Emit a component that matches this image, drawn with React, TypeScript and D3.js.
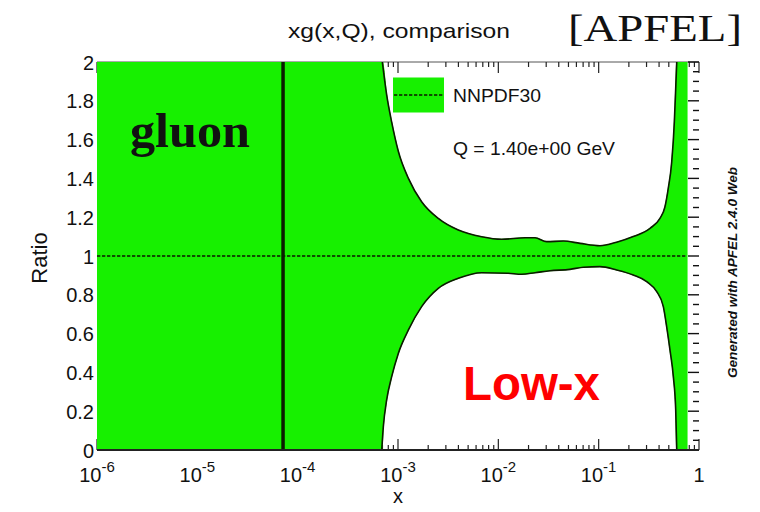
import React from "react";
import * as d3 from "d3";

// ---- data ----
const upperX = [1e-6, 6.98e-4, 7.71e-4, 8.65e-4, 1.007e-3, 1.27e-3, 1.72e-3, 2.52e-3, 3.99e-3, 6.82e-3, 1.08e-2, 1.85e-2, 2.32e-2, 3.03e-2, 4.45e-2, 6.52e-2, 0.103, 0.151, 0.221, 0.325, 0.408, 0.458, 0.494, 0.535, 0.568, 0.586, 0.6, 0.76];
const upperY = [2.0, 2.0, 1.83, 1.69, 1.54, 1.40, 1.28, 1.194, 1.134, 1.099, 1.086, 1.094, 1.094, 1.074, 1.077, 1.065, 1.053, 1.071, 1.100, 1.143, 1.194, 1.254, 1.349, 1.486, 1.692, 1.864, 2.0, 2.0];
const lowerX = [1e-6, 6.89e-4, 7.14e-4, 7.71e-4, 8.65e-4, 1.007e-3, 1.27e-3, 1.72e-3, 2.52e-3, 3.99e-3, 6.82e-3, 1.256e-2, 1.71e-2, 2.32e-2, 3.27e-2, 5.18e-2, 7.03e-2, 0.103, 0.151, 0.221, 0.301, 0.379, 0.441, 0.476, 0.514, 0.555, 0.586, 0.6, 0.76];
const lowerY = [0, 0, 0.12, 0.258, 0.378, 0.498, 0.619, 0.739, 0.833, 0.885, 0.914, 0.911, 0.906, 0.914, 0.924, 0.931, 0.942, 0.945, 0.928, 0.902, 0.868, 0.816, 0.739, 0.636, 0.515, 0.378, 0.206, 0, 0];
const centralValue = 1;
const xMarker = 7.15e-5;
const xDecades = [-6, -5, -4, -3, -2, -1, 0];
const yTickValues = [0, 0.2, 0.4, 0.6, 0.8, 1, 1.2, 1.4, 1.6, 1.8, 2];
const yTickLabels = ["0", "0.2", "0.4", "0.6", "0.8", "1", "1.2", "1.4", "1.6", "1.8", "2"];
const title = "xg(x,Q), comparison";
const legendLabel = "NNPDF30";
const scaleLabel = "Q = 1.40e+00 GeV";

const GREEN = "#17f000";
const DARK = "#0c1a00";
const SANS = "'Liberation Sans', Arial, Helvetica, sans-serif";
const SERIF = "'Liberation Serif', 'Times New Roman', serif";

export default function App() {
  const L = 97, R = 699, T = 62, B = 450;
  const x = d3.scaleLog().domain([1e-6, 1]).range([L, R]);
  const y = d3.scaleLinear().domain([0, 2]).range([B, T]);

  const up = upperX.map((v, i) => [x(v), y(upperY[i])] as [number, number]);
  const lo = lowerX.map((v, i) => [x(v), y(lowerY[i])] as [number, number]);
  const line = d3.line().curve(d3.curveMonotoneX);
  const upPath = line(up) as string;
  const loRev = line(lo.slice().reverse()) as string;
  const band = upPath + "L" + loRev.slice(1) + "Z";
  const upEdge = line(up.slice(1, -1)) as string;
  const loEdge = line(lo.slice(1, -1)) as string;

  // ticks
  const xMajor = xDecades.map((d) => Math.pow(10, d));
  const xMinor: number[] = [];
  xDecades.slice(0, -1).forEach((d) => {
    for (let k = 2; k <= 9; k++) xMinor.push(k * Math.pow(10, d));
  });
  const yMinor = d3.range(0, 41).map((i) => i * 0.05);

  const xEnd = x(upperX[upperX.length - 1]);

  return (
    <svg width={760} height={512} style={{ position: "absolute", left: 0, top: 0, background: "#fff" }}>
      <defs>
        <clipPath id="plot">
          <rect x={L} y={T} width={R - L} height={B - T} />
        </clipPath>
      </defs>
      {/* frame + ticks (under the band) */}
      <line x1={L} x2={R} y1={T} y2={T} stroke="#555" strokeWidth={1} />
      {xMajor.map((v, i) => (
        <g key={"xM" + i} stroke="#222" strokeWidth={1.2}>
          <line x1={x(v)} x2={x(v)} y1={B} y2={B - 11} />
          <line x1={x(v)} x2={x(v)} y1={T} y2={T + 11} />
        </g>
      ))}
      {xMinor.map((v, i) => (
        <g key={"xm" + i} stroke="#222" strokeWidth={1.2}>
          <line x1={x(v)} x2={x(v)} y1={B} y2={B - 5} />
          <line x1={x(v)} x2={x(v)} y1={T} y2={T + 5} />
        </g>
      ))}
      {yMinor.map((v, i) => (
        <line key={"ym" + i} x1={R} x2={R - (i % 4 === 0 ? 11 : 6)} y1={y(v)} y2={y(v)} stroke="#111" strokeWidth={1.4} />
      ))}

      {/* band */}
      <g clipPath="url(#plot)">
        <path d={band} fill={GREEN} stroke={GREEN} strokeWidth={1} />
        <path d={upEdge} fill="none" stroke={DARK} strokeWidth={1.6} />
        <path d={loEdge} fill="none" stroke={DARK} strokeWidth={1.6} />
      </g>
      <line x1={L} x2={xEnd} y1={y(centralValue)} y2={y(centralValue)} stroke={DARK} strokeWidth={1.5} strokeDasharray="3.3,1.7" />
      <line x1={x(xMarker)} x2={x(xMarker)} y1={T} y2={B} stroke="#0b1d00" strokeWidth={3.5} />
      <line x1={L} x2={R} y1={B} y2={B} stroke="#222" strokeWidth={2} />

      {/* y tick labels */}
      {yTickValues.map((v, i) => (
        <text key={"yl" + i} x={94} y={y(v) + 7.5} textAnchor="end" fontFamily={SANS} fontSize={20} fill="#111">
          {yTickLabels[i]}
        </text>
      ))}
      {/* x tick labels */}
      {xDecades.map((d, i) => (
        <text key={"xl" + i} x={x(Math.pow(10, d))} y={482} textAnchor="middle" fontFamily={SANS} fontSize={20} fill="#111">
          {d === 0 ? "1" : (
            <>
              <tspan>10</tspan>
              <tspan dy={-10} fontSize={15}>{String(d)}</tspan>
            </>
          )}
        </text>
      ))}
      <text x={(L + R) / 2} y={503} textAnchor="middle" fontFamily={SANS} fontSize={20} fill="#111">x</text>
      <text transform="translate(47,258) rotate(-90)" textAnchor="middle" fontFamily={SANS} fontSize={22} fill="#111">Ratio</text>

      {/* titles */}
      <text x={288} y={38} fontFamily={SANS} fontSize={21} fill="#111" textLength={222} lengthAdjust="spacingAndGlyphs">{title}</text>
      <text x={568} y={41} fontFamily={SERIF} fontSize={38} fill="#111" textLength={174} lengthAdjust="spacingAndGlyphs">[APFEL]</text>

      {/* legend */}
      <rect x={393} y={77.5} width={51} height={35} fill={GREEN} />
      <line x1={394} x2={443} y1={95} y2={95} stroke={DARK} strokeWidth={1.5} strokeDasharray="3.3,1.7" />
      <text x={453} y={102} fontFamily={SANS} fontSize={19} fill="#111" textLength={88} lengthAdjust="spacingAndGlyphs">{legendLabel}</text>
      <text x={453} y={155} fontFamily={SANS} fontSize={19} fill="#111" textLength={162} lengthAdjust="spacingAndGlyphs">{scaleLabel}</text>

      {/* annotations */}
      <text x={130} y={146.5} fontFamily={SERIF} fontWeight="bold" fontSize={48} fill="#111" textLength={120} lengthAdjust="spacingAndGlyphs">gluon</text>
      <text x={463} y={400} fontFamily={SANS} fontWeight="bold" fontSize={48} fill="#ff0000" textLength={137} lengthAdjust="spacingAndGlyphs">Low-x</text>
      <text transform="translate(737,272.5) rotate(-90)" textAnchor="middle" fontFamily={SANS} fontWeight="bold" fontStyle="italic" fontSize={13} fill="#111" textLength={211} lengthAdjust="spacingAndGlyphs">Generated with APFEL 2.4.0 Web</text>
    </svg>
  );
}
